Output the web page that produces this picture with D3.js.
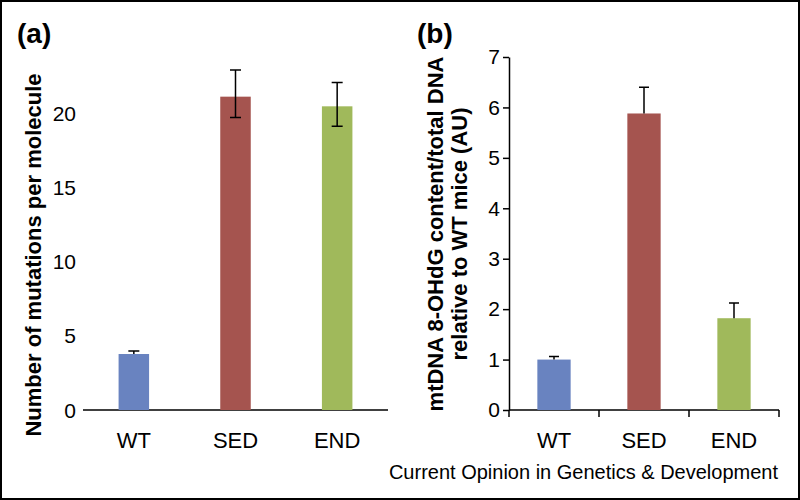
<!DOCTYPE html>
<meta charset="utf-8">
<title>Mutations and 8-OHdG</title>
<style>

body {
  margin: 0;
  background: #fff;
}

text {
  font-family: "Liberation Sans", Arial, sans-serif;
}

</style>
<body>
<script src="https://cdn.jsdelivr.net/npm/d3@7/dist/d3.min.js"></script>
<script>
var groups = ["WT", "SED", "END"],
    colors = ["#6983c0", "#a5544f", "#a0b95b"];

// panel (a): mutations per molecule, mean and error bar ends
var mutMean = [3.77, 21.1, 20.45],
    mutHigh = [3.97, 22.9, 22.05],
    mutLow  = [3.77, 19.7, 19.1],
    mutTicks = [0, 5, 10, 15, 20];

// panel (b): 8-OHdG relative to WT
var ohMean = [1.0, 5.88, 1.82],
    ohHigh = [1.06, 6.4, 2.12],
    ohTicks = [0, 1, 2, 3, 4, 5, 6, 7];

var w = 800,
    h = 500;

var svg = d3.select("body").append("svg")
    .attr("width", w)
    .attr("height", h);

svg.append("rect")
    .attr("x", 1)
    .attr("y", 1)
    .attr("width", w - 2)
    .attr("height", h - 2)
    .attr("fill", "none")
    .attr("stroke", "#000")
    .attr("stroke-width", 2);

// ---- panel (a)
var xa = d3.scaleBand().domain(groups).range([83, 388]).paddingInner(0.7).paddingOuter(0.35),
    ya = d3.scaleLinear().domain([0, 20]).range([410, 113]);

var ga = svg.append("g");

ga.append("line")
    .attr("x1", 83).attr("x2", 388)
    .attr("y1", ya(0)).attr("y2", ya(0))
    .attr("stroke", "#000").attr("stroke-width", 1.5);

ga.selectAll(".ytick")
    .data(mutTicks)
  .enter().append("text")
    .attr("x", 76)
    .attr("y", function(d) { return ya(d); })
    .attr("dy", "0.36em")
    .attr("text-anchor", "end")
    .style("font-size", "21px")
    .text(function(d) { return d; });

ga.selectAll(".bar")
    .data(groups)
  .enter().append("rect")
    .attr("x", function(d) { return xa(d); })
    .attr("width", xa.bandwidth())
    .attr("y", function(d, i) { return ya(mutMean[i]); })
    .attr("height", function(d, i) { return ya(0) - ya(mutMean[i]); })
    .attr("fill", function(d, i) { return colors[i]; });

errorBars(ga, xa, ya, mutHigh, mutLow, 5.5, true);

ga.selectAll(".xlab")
    .data(groups)
  .enter().append("text")
    .attr("x", function(d) { return xa(d) + xa.bandwidth() / 2; })
    .attr("y", 448)
    .attr("text-anchor", "middle")
    .style("font-size", "22px")
    .text(function(d) { return d; });

ga.append("text")
    .attr("transform", "translate(41,255)rotate(-90)")
    .attr("text-anchor", "middle")
    .style("font-size", "22px")
    .style("font-weight", "bold")
    .text("Number of mutations per molecule");

ga.append("text")
    .attr("x", 17).attr("y", 43)
    .style("font-size", "28px")
    .style("font-weight", "bold")
    .text("(a)");

// ---- panel (b)
var xb = d3.scaleBand().domain(groups).range([509, 779]).paddingInner(0.63).paddingOuter(0.315),
    yb = d3.scaleLinear().domain([0, 7]).range([410, 57]);

var gb = svg.append("g");

gb.append("g")
    .attr("transform", "translate(509,0)")
    .call(d3.axisLeft(yb).tickValues(ohTicks).tickFormat(d3.format("d")).tickSize(6).tickSizeOuter(0).tickPadding(3))
    .call(function(g) {
      g.select(".domain").attr("stroke-width", 1.5);
      g.selectAll(".tick line").attr("stroke-width", 1.5);
      g.selectAll(".tick text").style("font-size", "21px").attr("font-family", null).attr("fill", "#000");
    });

var xTicks = [509].concat(groups.map(function(d) { return xb(d) - xb.step() * xb.paddingInner() / 2 + xb.step(); }));

gb.append("line")
    .attr("x1", 509).attr("x2", 779)
    .attr("y1", yb(0)).attr("y2", yb(0))
    .attr("stroke", "#000").attr("stroke-width", 1.5);

gb.selectAll(".xtick")
    .data(xTicks)
  .enter().append("line")
    .attr("x1", function(d) { return d; })
    .attr("x2", function(d) { return d; })
    .attr("y1", yb(0))
    .attr("y2", yb(0) + 7)
    .attr("stroke", "#000").attr("stroke-width", 1.5);

gb.selectAll(".bar")
    .data(groups)
  .enter().append("rect")
    .attr("x", function(d) { return xb(d); })
    .attr("width", xb.bandwidth())
    .attr("y", function(d, i) { return yb(ohMean[i]); })
    .attr("height", function(d, i) { return yb(0) - yb(ohMean[i]); })
    .attr("fill", function(d, i) { return colors[i]; });

errorBars(gb, xb, yb, ohHigh, ohMean, 5, false);

gb.selectAll(".xlab")
    .data(groups)
  .enter().append("text")
    .attr("x", function(d) { return xb(d) + xb.bandwidth() / 2; })
    .attr("y", 448)
    .attr("text-anchor", "middle")
    .style("font-size", "22px")
    .text(function(d) { return d; });

var lab = gb.append("text")
    .attr("transform", "translate(443,234)rotate(-90)")
    .attr("text-anchor", "middle")
    .style("font-size", "22px")
    .style("font-weight", "bold");
lab.append("tspan").attr("x", 0).attr("dy", 0).text("mtDNA 8-OHdG content/total DNA");
lab.append("tspan").attr("x", 0).attr("dy", 24).text("relative to WT mice (AU)");

gb.append("text")
    .attr("x", 417).attr("y", 43)
    .style("font-size", "28px")
    .style("font-weight", "bold")
    .text("(b)");

svg.append("text")
    .attr("x", 778).attr("y", 479)
    .attr("text-anchor", "end")
    .style("font-size", "20px")
    .text("Current Opinion in Genetics & Development");

// stem from lo to hi, cap on top; bottom cap too when the low end sits above the bar
function errorBars(g, x, y, hi, lo, cap, lowCap) {
  var c = function(d) { return x(d) + x.bandwidth() / 2; };
  g.selectAll(".err")
      .data(groups)
    .enter().append("path")
      .attr("fill", "none")
      .attr("stroke", "#000")
      .attr("stroke-width", 1.5)
      .attr("d", function(d, i) {
        var p = "M" + c(d) + "," + y(lo[i]) + "V" + y(hi[i]) +
                "M" + (c(d) - cap) + "," + y(hi[i]) + "H" + (c(d) + cap);
        if (lowCap && hi[i] - lo[i] > 0.5) {
          p += "M" + (c(d) - cap) + "," + y(lo[i]) + "H" + (c(d) + cap);
        }
        return p;
      });
}
</script>
